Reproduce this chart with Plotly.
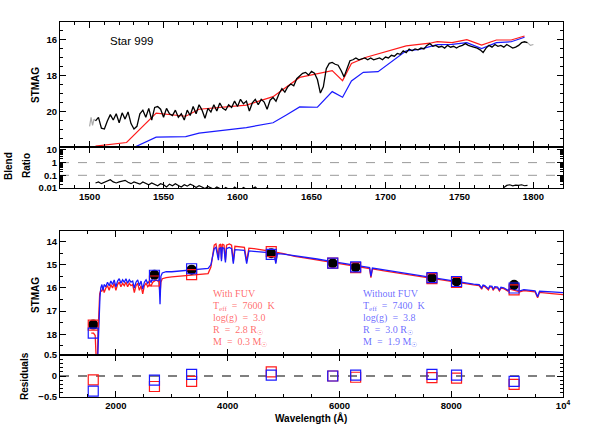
import numpy as np
import plotly.graph_objects as go

# ---------------- data: top panel (FUV spectrum) ----------------
fuv_wave = np.arange(1504, 1797, 2)
fuv_mag = [
    20.5, 20.3, 20.9, 20.95, 20.5, 20.15, 20.45, 20.1, 20.6, 20.05,
    20.4, 20.0, 20.65, 20.95, 20.8, 20.1, 19.9, 20.3, 19.8, 20.45,
    19.75, 19.7, 19.85, 20.3, 19.8, 20.1, 20.2, 19.9, 20.3, 20.1,
    20.45, 19.9, 20.2, 19.7, 20.1, 19.6, 19.9, 20.35, 19.8, 20.0,
    19.6, 19.95, 19.5, 19.8, 19.9, 19.6, 19.75, 19.4, 19.7, 19.3,
    19.55, 19.4, 19.95, 19.5, 19.3, 19.6, 19.3, 19.45, 19.85, 19.35,
    19.2, 19.4, 19.0, 18.7, 18.9, 18.6, 18.45, 18.55, 18.15, 18.0,
    17.85, 17.8, 17.95, 17.75, 17.85, 18.2, 18.95, 18.6, 17.6, 17.3,
    17.25, 17.35, 17.4, 17.7, 18.05, 17.6, 17.15, 17.1, 17.0, 17.1,
    17.05, 17.0, 17.1, 17.0, 17.1, 17.05, 17.0, 17.1, 16.95, 17.0,
    16.85, 16.9, 16.75, 16.8, 16.6, 16.7, 16.5, 16.6, 16.5, 16.55,
    16.45, 16.5, 16.3, 16.2, 16.35, 16.3, 16.4, 16.35, 16.45, 16.3,
    16.4, 16.35, 16.45, 16.35, 16.3, 16.2, 16.3, 16.35, 16.4, 16.45,
    16.55, 16.7, 16.45, 16.3, 16.4, 16.25, 16.35, 16.3, 16.4, 16.25,
    16.35, 16.45, 16.4, 16.3, 16.15, 16.1, 16.15,
]
blend_ratio = [
    0.025, 0.03, 0.022, 0.028, 0.035, 0.045, 0.03, 0.025, 0.03, 0.035,
    0.04, 0.028, 0.022, 0.03, 0.025, 0.02, 0.03, 0.022, 0.018, 0.025,
    0.02, 0.015, 0.022, 0.018, 0.012, 0.02, 0.015, 0.022, 0.016, 0.012,
    0.018, 0.014, 0.02, 0.016, 0.011, 0.015, 0.012, 0.009, 0.013, 0.011,
    0.008, 0.012, 0.010, 0.007, 0.011, 0.009, 0.006, 0.012, 0.008, 0.007,
    0.011, 0.008, 0.006, 0.009, 0.012, 0.007, 0.005, 0.006, 0.011, 0.007,
    0.005, 0.006, 0.008, 0.005, 0.004, 0.006, 0.005, 0.004, 0.005, 0.004,
    None, None, None, None, None, None, None, None, None, None,
    None, None, None, None, None, None, None, None, None, None,
    None, None, None, None, None, None, None, None, None, None,
    None, None, None, None, None, None, None, None, None, None,
    None, None, None, None, None, None, None, None, None, None,
    None, None, None, None, None, None, None, None, None, None,
    None, None, None, None, None, None, None, None, 0.011, 0.016,
    0.018, 0.015, 0.017, 0.016, 0.018, 0.015, 0.016,
]
# grey (unused) ends of the spectrum
edge_wave_lo = [1500, 1501, 1502, 1503, 1504]
edge_mag_lo = [20.8, 20.3, 20.75, 20.4, 20.5]
edge_wave_hi = [1796, 1798, 1800]
edge_mag_hi = [16.15, 16.3, 16.25]

fuvmod_red_wave = [1504, 1525, 1545, 1565, 1574, 1606, 1624, 1642, 1664, 1671,
                   1677, 1687, 1714, 1730, 1735, 1745, 1755, 1765, 1775, 1785, 1794]
fuvmod_red_mag = [21.9, 21.7, 20.07, 20.24, 19.85, 19.62, 19.15, 18.08, 17.7, 18.26,
                  17.3, 16.96, 16.33, 16.18, 16.09, 16.15, 15.98, 16.28, 16.0, 16.0, 15.78]
fuvmod_blue_wave = [1528, 1545, 1565, 1574, 1606, 1624, 1633, 1642, 1654, 1664, 1671,
                    1677, 1685, 1695, 1714, 1723, 1735, 1745, 1755, 1765, 1775, 1785, 1794]
fuvmod_blue_mag = [22.05, 21.4, 21.37, 21.18, 20.87, 20.6, 20.17, 19.72, 19.74, 18.87, 19.18,
                   18.28, 17.8, 17.76, 16.6, 16.52, 16.26, 16.24, 16.15, 16.48, 16.15, 16.1, 15.85]
ratio_guides = [1, 0.1]

# ---------------- data: bottom panel (SED fit) ----------------
sed_red_wave = [1560, 1600, 1630, 1645, 1655, 1668, 1680, 1695, 1710, 1730, 1750, 1770, 1790,
                1820, 1850, 1880, 1910, 1940, 1970, 2000, 2030, 2060, 2090, 2120, 2150, 2180,
                2210, 2240, 2270, 2300, 2330, 2360, 2390, 2420, 2450, 2480, 2510, 2540, 2570,
                2600, 2630, 2660, 2690, 2720, 2750, 2770, 2790, 2805, 2830, 2900, 3000, 3100,
                3200, 3300, 3400, 3500, 3600, 3650, 3700, 3730, 3760, 3790, 3820, 3835, 3850,
                3875, 3889, 3905, 3935, 3960, 3980, 4030, 4070, 4101, 4130, 4200, 4300, 4340,
                4380, 4470, 4560, 4650, 4750, 4830, 4861, 4890, 5000, 5200, 5400, 5600, 5800,
                6000, 6200, 6400, 6540, 6563, 6590, 6800, 7000, 7200, 7400, 7600, 7800, 8000,
                8200, 8400, 8500, 8545, 8570, 8600, 8665, 8690, 8730, 8750, 8780, 8830, 8862,
                8890, 8940, 9015, 9050, 9100, 9229, 9300, 9400, 9500, 9546, 9580, 9800, 10000]
sed_red_mag = [17.95, 17.95, 18.05, 18.6, 19.5, 19.2, 18.0, 16.8, 16.25, 16.1, 16.15, 15.95, 16.2,
               16.0, 15.9, 16.1, 15.85, 16.0, 15.8, 16.1, 15.85, 15.75, 15.95, 15.8, 15.9, 15.75,
               15.95, 15.8, 15.9, 15.85, 16.2, 15.9, 15.8, 16.1, 15.9, 16.25, 15.9, 15.8, 15.95,
               15.85, 15.9, 15.75, 15.7, 15.65, 15.7, 15.7, 16.3, 15.75, 15.6, 15.55, 15.52, 15.5,
               15.48, 15.46, 15.44, 15.42, 15.4, 15.38, 15.1, 14.5, 14.15, 14.1, 14.45, 14.7, 14.15,
               14.1, 14.75, 14.1, 14.15, 14.8, 14.15, 14.1, 14.15, 14.85, 14.2, 14.22, 14.25, 14.85,
               14.28, 14.3, 14.33, 14.36, 14.4, 14.44, 14.9, 14.47, 14.52, 14.64, 14.71, 14.79, 14.87,
               14.94, 15.02, 15.1, 15.16, 15.55, 15.18, 15.26, 15.34, 15.41, 15.49, 15.56, 15.63, 15.74,
               15.8, 15.87, 15.9, 16.05, 15.91, 15.94, 16.08, 15.95, 15.97, 16.1, 15.98, 16.0, 16.13,
               16.01, 16.03, 16.14, 16.05, 16.09, 16.17, 16.11, 16.14, 16.17, 16.42, 16.19, 16.24, 16.29]
sed_blue_wave = [1670, 1685, 1700, 1715, 1730, 1750, 1770, 1790, 1820, 1850, 1880, 1910, 1940,
                 1970, 2000, 2030, 2060, 2090, 2120, 2150, 2180, 2210, 2240, 2270, 2300, 2330,
                 2360, 2390, 2420, 2450, 2480, 2510, 2540, 2570, 2600, 2630, 2660, 2690, 2720,
                 2750, 2770, 2790, 2805, 2830, 2900, 3000, 3100, 3200, 3300, 3400, 3500, 3600,
                 3650, 3700, 3730, 3760, 3790, 3820, 3835, 3850, 3875, 3889, 3905, 3935, 3960,
                 3980, 4030, 4070, 4101, 4130, 4200, 4300, 4340, 4380, 4470, 4560, 4650, 4750,
                 4830, 4861, 4890, 5000, 5200, 5400, 5600, 5800, 6000, 6200, 6400, 6540, 6563,
                 6590, 6800, 7000, 7200, 7400, 7600, 7800, 8000, 8200, 8400, 8500, 8545, 8570,
                 8600, 8665, 8690, 8730, 8750, 8780, 8830, 8862, 8890, 8940, 9015, 9050, 9100,
                 9229, 9300, 9400, 9500, 9546, 9580, 9800, 10000]
sed_blue_mag = [19.3, 18.2, 17.2, 16.4, 16.0, 15.85, 16.1, 15.85, 15.95, 15.75, 15.9, 15.7, 15.85,
                15.65, 15.95, 15.7, 15.6, 15.8, 15.65, 15.75, 15.6, 15.8, 15.65, 15.75, 15.7, 16.0,
                15.75, 15.65, 15.9, 15.7, 16.05, 15.75, 15.65, 15.8, 15.7, 15.75, 15.55, 15.45, 15.4,
                15.5, 15.45, 16.7, 15.5, 15.35, 15.3, 15.3, 15.28, 15.27, 15.25, 15.23, 15.21, 15.18,
                15.16, 15.0, 14.6, 14.3, 14.25, 14.6, 14.8, 14.3, 14.25, 14.85, 14.25, 14.3, 14.9,
                14.3, 14.25, 14.3, 14.95, 14.35, 14.35, 14.38, 14.95, 14.4, 14.42, 14.44, 14.46, 14.48,
                14.5, 14.95, 14.52, 14.54, 14.6, 14.67, 14.75, 14.83, 14.9, 14.98, 15.06, 15.12, 15.5,
                15.14, 15.22, 15.3, 15.37, 15.45, 15.52, 15.59, 15.7, 15.76, 15.83, 15.86, 16.0, 15.87,
                15.9, 16.03, 15.91, 15.93, 16.06, 15.94, 15.96, 16.09, 15.97, 15.99, 16.1, 16.01, 16.05,
                16.12, 16.07, 16.1, 16.12, 16.38, 16.14, 16.17, 16.2]

phot_wave = [1595, 2690, 3355, 4780, 5880, 6290, 7655, 8095, 9125]
phot_mag = [17.58, 15.43, 15.21, 14.5, 14.93, 15.1, 15.57, 15.72, 15.86]
synth_red_mag = [17.6, 15.7, 15.42, 14.43, 14.93, 15.12, 15.6, 15.76, 16.08]
synth_blue_mag = [17.95, 15.45, 15.17, 14.55, 14.93, 15.09, 15.55, 15.72, 16.0]
resid_red = [-0.09, -0.25, -0.13, 0.1, 0.0, -0.03, -0.04, -0.05, -0.2]
resid_blue = [-0.36, -0.1, 0.04, 0.02, 0.0, 0.02, 0.04, 0.02, -0.13]

red_label = ["With FUV", "T<sub>eff</sub>  =  7600  K", "log(g)  =  3.0",
             "R  =  2.8 R<sub>☉</sub>", "M  =  0.3 M<sub>☉</sub>"]
blue_label = ["Without FUV", "T<sub>eff</sub>  =  7400  K", "log(g)  =  3.8",
              "R  =  3.0 R<sub>☉</sub>", "M  =  1.9 M<sub>☉</sub>"]

# ---------------- figure ----------------
RED = "#ff1a1a"
BLUE = "#1a1aff"
W, H = 598, 447
ML, MR, MT, MB = 60, 35, 22, 50


def py(ypix):
    # window pixel row -> paper fraction
    return (H - MB - ypix) / (H - MB - MT)


def px(xpix):
    return (xpix - ML) / (W - ML - MR)


fig = go.Figure()

# top: observed FUV spectrum + models
fig.add_trace(go.Scatter(x=edge_wave_lo, y=edge_mag_lo, mode="lines",
                         line=dict(color="#aaaaaa", width=1.2), xaxis="x", yaxis="y"))
fig.add_trace(go.Scatter(x=edge_wave_hi, y=edge_mag_hi, mode="lines",
                         line=dict(color="#aaaaaa", width=1.2), xaxis="x", yaxis="y"))
fig.add_trace(go.Scatter(x=fuvmod_blue_wave, y=fuvmod_blue_mag, mode="lines",
                         line=dict(color=BLUE, width=1.2), xaxis="x", yaxis="y"))
fig.add_trace(go.Scatter(x=fuvmod_red_wave, y=fuvmod_red_mag, mode="lines",
                         line=dict(color=RED, width=1.2), xaxis="x", yaxis="y"))
fig.add_trace(go.Scatter(x=fuv_wave, y=fuv_mag, mode="lines",
                         line=dict(color="black", width=1.3), xaxis="x", yaxis="y"))

# blend ratio
for g in ratio_guides:
    fig.add_trace(go.Scatter(x=[1480, 1820], y=[g, g], mode="lines",
                             line=dict(color="#999999", width=1, dash="dash"),
                             xaxis="x2", yaxis="y2"))
fig.add_trace(go.Scatter(x=fuv_wave, y=blend_ratio, mode="lines",
                         line=dict(color="black", width=1.2), xaxis="x2", yaxis="y2"))

# bottom: SED
fig.add_trace(go.Scatter(x=sed_red_wave, y=sed_red_mag, mode="lines",
                         line=dict(color=RED, width=1.3), xaxis="x3", yaxis="y3"))
fig.add_trace(go.Scatter(x=sed_blue_wave, y=sed_blue_mag, mode="lines",
                         line=dict(color=BLUE, width=1.3), xaxis="x3", yaxis="y3"))
fig.add_trace(go.Scatter(x=phot_wave, y=phot_mag, mode="markers",
                         marker=dict(color="black", size=10, symbol="circle"),
                         xaxis="x3", yaxis="y3"))
fig.add_trace(go.Scatter(x=phot_wave, y=synth_red_mag, mode="markers",
                         marker=dict(color=RED, size=10, symbol="square-open", line=dict(width=1.2)),
                         xaxis="x3", yaxis="y3"))
fig.add_trace(go.Scatter(x=phot_wave, y=synth_blue_mag, mode="markers",
                         marker=dict(color=BLUE, size=10, symbol="square-open", line=dict(width=1.2)),
                         xaxis="x3", yaxis="y3"))

# residuals
fig.add_trace(go.Scatter(x=[1000, 10000], y=[0, 0], mode="lines",
                         line=dict(color="#555555", width=1.5, dash="dash"),
                         xaxis="x4", yaxis="y4"))
fig.add_trace(go.Scatter(x=phot_wave, y=resid_red, mode="markers",
                         marker=dict(color=RED, size=10, symbol="square-open", line=dict(width=1.2)),
                         xaxis="x4", yaxis="y4"))
fig.add_trace(go.Scatter(x=phot_wave, y=resid_blue, mode="markers",
                         marker=dict(color=BLUE, size=10, symbol="square-open", line=dict(width=1.2)),
                         xaxis="x4", yaxis="y4"))

tickfont = dict(family="Liberation Sans", size=9.5, color="black", weight="bold")
common = dict(showline=True, linecolor="black", linewidth=1, mirror="allticks",
              ticks="inside", ticklen=6, tickcolor="black", showgrid=False,
              zeroline=False, tickfont=tickfont)

log_minor = [m * 10.0 ** e for e in (-2, -1, 0) for m in range(2, 10)]

fig.update_layout(
    width=W, height=H,
    margin=dict(l=ML, r=MR, t=MT, b=MB),
    paper_bgcolor="white", plot_bgcolor="white",
    showlegend=False,
    font=dict(family="Liberation Sans", color="black"),
    xaxis=dict(domain=[0, 1], anchor="y", range=[1480, 1820], dtick=50, tick0=1500,
               showticklabels=False,
               minor=dict(ticks="inside", dtick=10, ticklen=3, tickcolor="black"), **common),
    xaxis2=dict(domain=[0, 1], anchor="y2", range=[1480, 1820], dtick=50, tick0=1500,
                matches="x",
                minor=dict(ticks="inside", dtick=10, ticklen=3, tickcolor="black"), **common),
    yaxis=dict(domain=[py(147), 1], anchor="x", range=[21.95, 15.0], dtick=2, tick0=0,
               minor=dict(ticks="inside", dtick=0.5, ticklen=3, tickcolor="black"), **common),
    yaxis2=dict(domain=[py(188), py(147)], anchor="x2", type="log", range=[-2.0, 1.23],
                tickvals=[0.01, 0.1, 1, 10], ticktext=["0.01", "0.1", "1", "10"],
                minor=dict(ticks="inside", tickvals=log_minor, ticklen=3, tickcolor="black"),
                **common),
    xaxis3=dict(domain=[0, 1], anchor="y3", range=[1000, 10000], dtick=2000, tick0=0,
                showticklabels=False,
                minor=dict(ticks="inside", dtick=500, ticklen=3, tickcolor="black"), **common),
    xaxis4=dict(domain=[0, 1], anchor="y4", range=[1000, 10000], matches="x3",
                tickvals=[2000, 4000, 6000, 8000, 10000],
                ticktext=["2000", "4000", "6000", "8000", "10<sup>4</sup>"],
                minor=dict(ticks="inside", dtick=500, ticklen=3, tickcolor="black"), **common),
    yaxis3=dict(domain=[py(355), py(230.7)], anchor="x3", range=[18.89, 13.53], dtick=1,
                tick0=0,
                minor=dict(ticks="inside", dtick=0.5, ticklen=3, tickcolor="black"), **common),
    yaxis4=dict(domain=[0, py(355)], anchor="x4", range=[-0.5, 0.5],
                tickvals=[-0.5, 0, 0.5], ticktext=["\u22120.5", "0", "0.5"],
                minor=dict(ticks="inside", dtick=0.1, ticklen=3, tickcolor="black"), **common),
)

annots = [
    dict(text="Star 999", x=px(131), y=py(41), font=dict(size=11.5)),
    dict(text="<b>STMAG</b>", x=px(35), y=py(85), textangle=-90, font=dict(size=10)),
    dict(text="<b>Blend</b>", x=px(8), y=py(166), textangle=-90, font=dict(size=10)),
    dict(text="<b>Ratio</b>", x=px(26), y=py(166), textangle=-90, font=dict(size=10)),
    dict(text="<b>STMAG</b>", x=px(35), y=py(295), textangle=-90, font=dict(size=10)),
    dict(text="<b>Residuals</b>", x=px(24), y=py(376), textangle=-90, font=dict(size=10)),
    dict(text="<b>Wavelength (Å)</b>", x=px(311), y=py(418), font=dict(size=10)),
]
for a in annots:
    fig.add_annotation(xref="paper", yref="paper", showarrow=False,
                       xanchor="center", yanchor="middle", **a)

# model parameter blocks; anchored at the top of each line so subscripts don't shift rows
line_tops = [286.5, 298.7, 310.8, 322.8, 334.6]
for txt, row in zip(red_label, line_tops):
    fig.add_annotation(text=txt.replace("  ", "\u00a0\u00a0"), x=px(211.5), y=py(row),
                       xref="paper", yref="paper", showarrow=False,
                       xanchor="left", yanchor="top", borderpad=0,
                       font=dict(family="Liberation Serif", size=10, color="rgba(255,0,0,0.6)"))
for txt, row in zip(blue_label, line_tops):
    fig.add_annotation(text=txt.replace("  ", "\u00a0\u00a0"), x=px(361.5), y=py(row),
                       xref="paper", yref="paper", showarrow=False,
                       xanchor="left", yanchor="top", borderpad=0,
                       font=dict(family="Liberation Serif", size=10, color="rgba(0,0,255,0.6)"))

# drop the browser's default 8px page margin so the figure fills the window
fig.write_html("out.html", config={"displayModeBar": False},
               post_script="document.body.style.margin='0px';")
